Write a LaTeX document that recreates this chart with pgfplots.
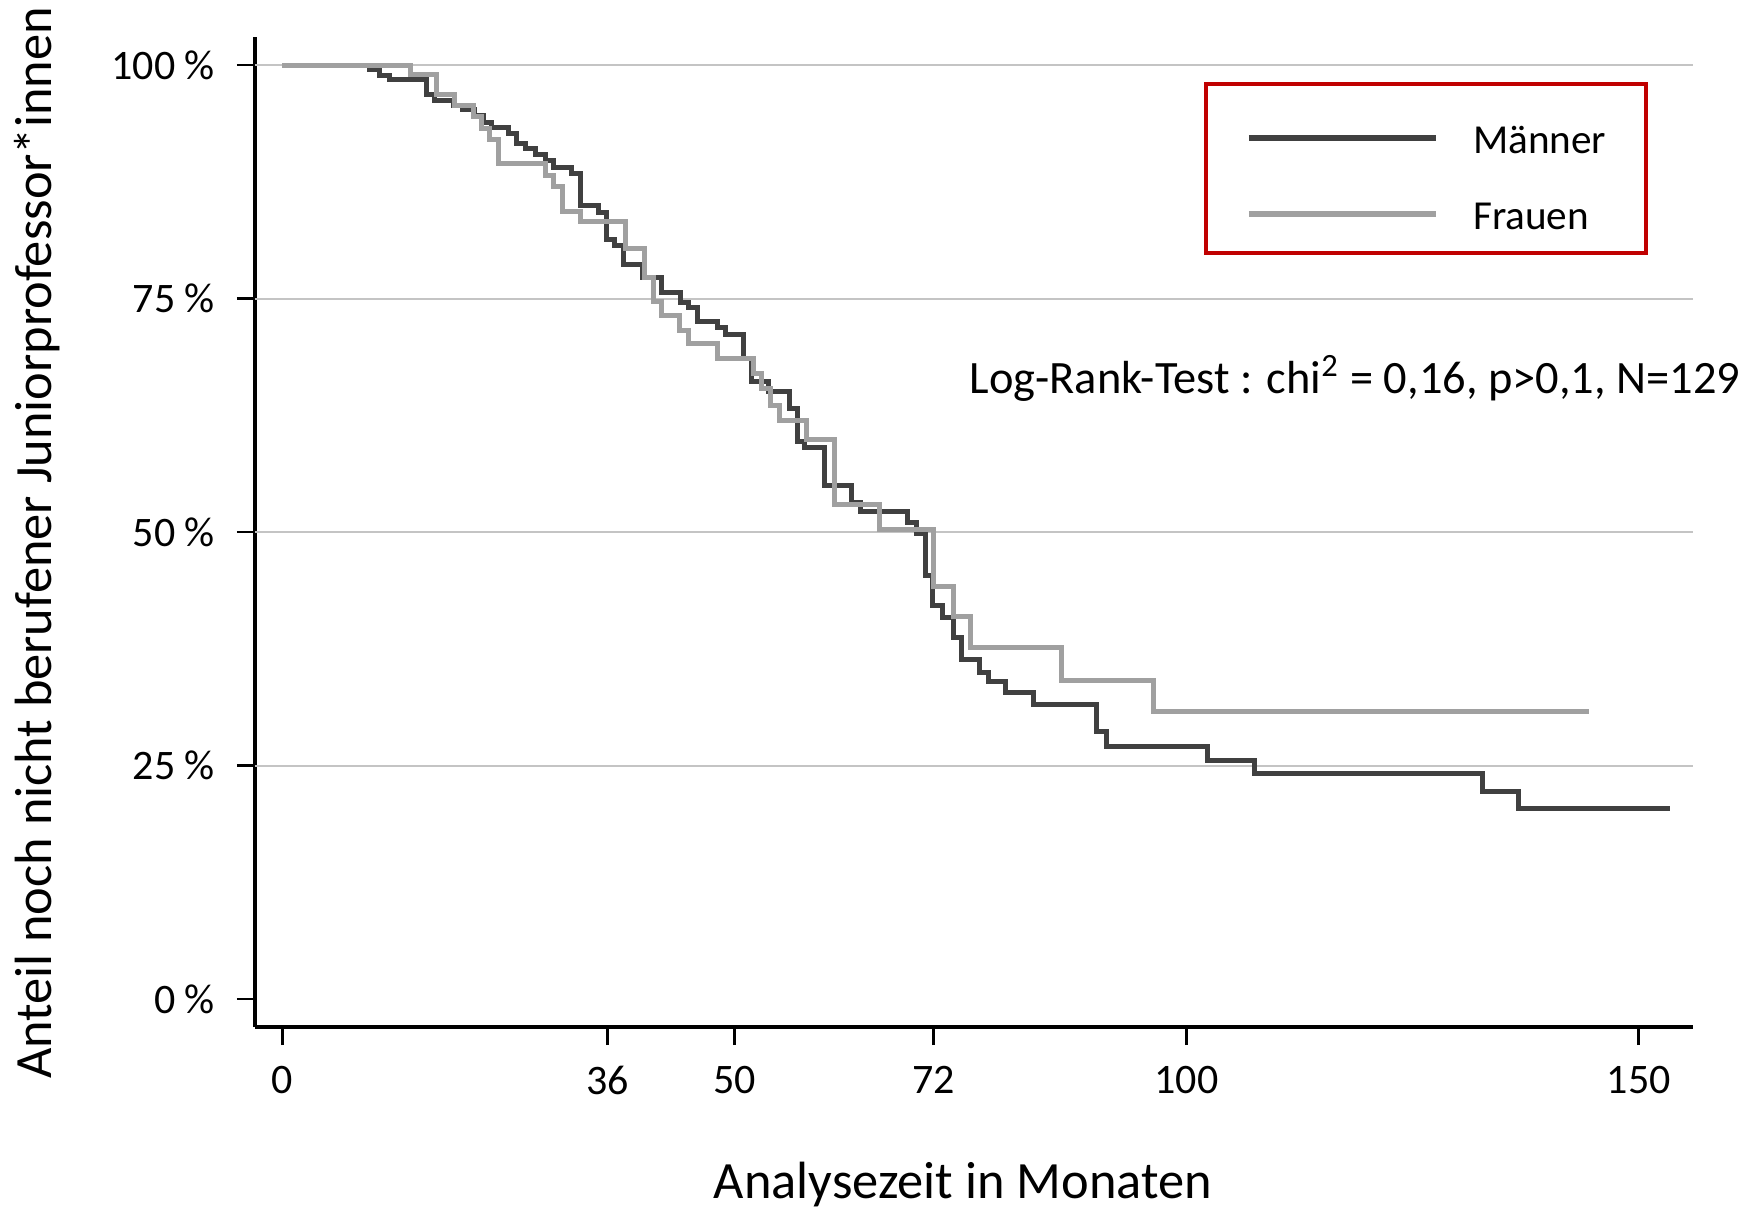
\documentclass[border=0pt]{standalone}
\usepackage{fontspec}
\setmainfont{Carlito}
\usepackage{pgfplots}
\pgfplotsset{compat=1.18}
\definecolor{men}{HTML}{404040}
\definecolor{women}{HTML}{A0A0A0}
\definecolor{gridgray}{HTML}{C4C4C4}
\definecolor{boxred}{HTML}{C00000}
\begin{document}
\begin{tikzpicture}
\begin{axis}[
  scale only axis, width=359.5bp, height=247.5bp,
  xmin=-3, xmax=156, ymin=-0.03, ymax=1.03,
  clip=false,
  axis lines*=left,
  axis line style={-, line width=0.8bp, black},
  tick align=outside, major tick length=4.5bp,
  tick style={line width=0.7bp, black},
  xtick={0,36,50,72,100,150},
  xticklabels={0,36,50,72,100,150},
  ytick={0,0.25,0.5,0.75,1},
  yticklabels={0 \%,25 \%,50 \%,75 \%,100 \%},
  extra y ticks={0.25,0.5,0.75,1},
  extra y tick labels={},
  extra y tick style={grid=major, major tick length=0pt,
    major grid style={gridgray, line width=0.5bp}},
  tick label style={font=\fontsize{10.5bp}{12bp}\selectfont},
  xticklabel style={yshift=-1.7bp},
  yticklabel style={xshift=-2bp},
  xlabel={Analysezeit in Monaten},
  ylabel={Anteil noch nicht berufener Juniorprofessor*innen},
  label style={font=\fontsize{13.1bp}{15bp}\selectfont, inner sep=0pt},
  xlabel style={at={(rel axis cs:0.4923,-0.1586)}, anchor=center},
  ylabel style={at={(rel axis cs:-0.1516,0.4889)}, anchor=center},
  legend cell align=left,
  legend image code/.code={\draw[#1, line width=1.6bp] (0bp,-1.9bp) -- (46.75bp,-1.9bp);},
  legend style={at={(axis cs:101.9,0.982)}, anchor=north west,
    draw=boxred, line width=1bp,
    font=\fontsize{10.3bp}{12bp}\selectfont,
    inner xsep=10bp, inner ysep=4bp,
    row sep=3.7bp, column sep=8.5bp,
    nodes={inner sep=0pt, text height=13.3bp, text depth=2bp}},
]
\path (rel axis cs:-0.1773,-0.1838) rectangle (rel axis cs:1.0438,1.0374);

\addplot[const plot, men, line width=1.25bp] coordinates {
(0,1.0) (9.7,0.995) (10.8,0.989) (11.9,0.985) (16.0,0.968) (16.9,0.9625)
(18.9,0.957) (20.0,0.952) (21.3,0.946) (22.3,0.939) (23.2,0.933) (25.0,0.927)
(25.9,0.916) (26.9,0.911) (28.0,0.904) (29.1,0.898) (30.0,0.890) (32.0,0.884)
(33.0,0.850) (35.0,0.842) (35.9,0.813) (36.8,0.807) (37.8,0.786) (39.9,0.772)
(42.0,0.756) (44.0,0.7455) (44.9,0.7405) (45.9,0.725) (48.1,0.719) (49.0,0.711)
(51.0,0.686) (51.9,0.661) (53.8,0.651) (56.1,0.632) (57.0,0.597) (57.8,0.590)
(60.0,0.550) (63.0,0.532) (63.9,0.5225) (69.1,0.510) (70.1,0.4986) (71.1,0.454)
(71.9,0.421) (73.0,0.409) (74.2,0.387) (75.1,0.364) (77.1,0.350) (78.1,0.340)
(80.0,0.328) (83.1,0.315) (90.1,0.286) (91.2,0.270) (102.3,0.255) (107.5,0.241)
(132.7,0.222) (136.7,0.2045) (153.5,0.2045)
};
\addlegendentry{Männer}

\addplot[const plot, women, line width=1.25bp] coordinates {
(0,1.0) (14.2,0.990) (17.1,0.968) (19.1,0.957) (21.2,0.945) (22.0,0.932)
(22.9,0.920) (23.9,0.895) (29.1,0.882) (30.0,0.870) (31.0,0.843) (33.0,0.832)
(38.0,0.804) (40.1,0.772) (41.1,0.7466) (42.0,0.732) (43.9,0.716) (44.9,0.702)
(48.1,0.686) (52.1,0.670) (53.0,0.654) (54.0,0.636) (55.0,0.619) (58.0,0.599)
(61.1,0.530) (66.1,0.503) (72.0,0.442) (74.2,0.410) (76.1,0.3765) (86.2,0.3415)
(96.3,0.3076) (144.5,0.3076)
};
\addlegendentry{Frauen}

\node[anchor=base west, inner sep=0pt, font=\fontsize{11.6bp}{14bp}\selectfont]
  at (axis cs:75.94,0.648) {Log-Rank-Test : chi\textsuperscript{2} = 0,16, p>0,1, N=129};
\end{axis}
\end{tikzpicture}
\end{document}
